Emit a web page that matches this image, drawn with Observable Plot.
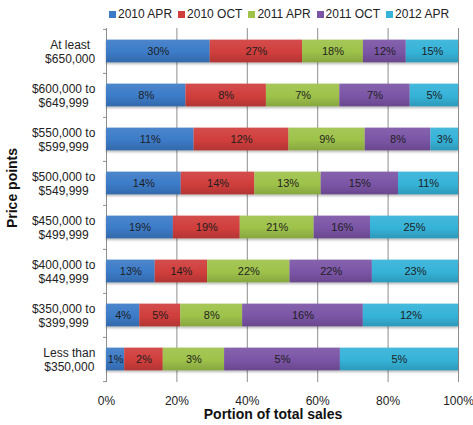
<!DOCTYPE html>
<html><head><meta charset="utf-8">
<script src="https://cdn.jsdelivr.net/npm/d3@7"></script>
<script src="https://cdn.jsdelivr.net/npm/@observablehq/plot@0.6"></script>
<style>
body{margin:0;background:#fff;font-family:"Liberation Sans",Arial,sans-serif;}
#chart{width:473px;height:425px;position:relative;background:#fff;}
#legend{height:22px;display:flex;align-items:center;padding-left:109px;padding-top:6px;box-sizing:border-box;font-size:12px;color:#222;white-space:nowrap;}
#legend .item{display:flex;align-items:center;margin-right:6px;}
#legend .sw{width:7px;height:7px;margin-right:2px;margin-top:1px;}
svg{display:block;}
</style></head>
<body><div id="chart"><div id="legend"></div></div>
<script>
const categories = [
  "At least\n$650,000",
  "$600,000 to\n$649,999",
  "$550,000 to\n$599,999",
  "$500,000 to\n$549,999",
  "$450,000 to\n$499,999",
  "$400,000 to\n$449,999",
  "$350,000 to\n$399,999",
  "Less than\n$350,000"
];
const series = ["2010 APR", "2010 OCT", "2011 APR", "2011 OCT", "2012 APR"];
const apr2010 = [30.0, 7.9, 10.8, 14.2, 19, 13, 4.3, 0.8];
const oct2010 = [26.7, 8.0, 11.7, 14.0, 19, 14, 5.3, 1.7];
const apr2011 = [17.6, 7.3, 9.4, 12.6, 21, 22, 8.0, 2.7];
const oct2011 = [12.4, 7.0, 8.1, 14.7, 16, 22, 15.6, 5.1];
const apr2012 = [15.1, 4.8, 3.4, 11.4, 25, 23, 12.3, 5.2];
const colors = ["#3C7BC8", "#D03E3C", "#9EC24A", "#7B55A6", "#35B3D8"];
const xTicks = [0, 0.2, 0.4, 0.6, 0.8, 1];

const seriesValues = [apr2010, oct2010, apr2011, oct2011, apr2012];
const data = categories.flatMap((c, i) =>
  series.map((s, j) => ({category: c, series: s, value: seriesValues[j][i]})));

const W = 473, H = 403, mt = 6, mb = 43, ml = 106, mr = 15;
const step = (H - mt - mb) / categories.length;
const barInset = (step - 23) / 2;
const font = '"Liberation Sans", Arial, sans-serif';

const chart = Plot.plot({
  width: W, height: H,
  marginTop: mt, marginBottom: mb, marginLeft: ml, marginRight: mr,
  style: {fontFamily: font, fontSize: "12px", color: "#222", background: "#fff", overflow: "visible"},
  x: {domain: [0, 1], axis: null},
  y: {domain: categories, padding: 0, axis: null},
  color: {domain: series, range: series.map((s, i) => `url(#grad${i})`)},
  marks: [
    Plot.gridX(xTicks, {stroke: "#8e8e8e", strokeOpacity: 1}),
    Plot.barX(data, Plot.stackX({x: "value", y: "category", fill: "series", offset: "normalize",
      insetTop: barInset, insetBottom: barInset})),
    Plot.text(data, Plot.stackX({x: "value", y: "category", z: "series", offset: "normalize",
      text: d => Math.round(d.value) + "%", fill: "#1e1e1e", fontSize: 11})),
    Plot.axisX(xTicks, {tickSize: 0, tickPadding: 13.5, tickFormat: d3.format(".0%"), label: null}),
    Plot.axisY({tickSize: 3, text: null, dy: -step / 2, stroke: "#8e8e8e", label: null}),
    Plot.axisY([categories[categories.length - 1]], {tickSize: 3, text: null, dy: step / 2, stroke: "#8e8e8e", label: null}),
    Plot.axisY({tickSize: 0, tickPadding: 11, lineHeight: 1.17, label: null}),
    Plot.text(["Portion of total sales"], {frameAnchor: "bottom", textAnchor: "middle", lineAnchor: "middle",
      dy: 32.5, dx: -9.5, fontWeight: "bold", fontSize: 14, fill: "#111"}),
    Plot.text(["Price points"], {frameAnchor: "left", textAnchor: "middle", lineAnchor: "middle",
      rotate: -90, dx: -94, dy: -17.5, fontWeight: "bold", fontSize: 14, fill: "#111"})
  ]
});

document.getElementById("chart").appendChild(chart);

// gradients & shadow
const ns = "http://www.w3.org/2000/svg";
const defs = document.createElementNS(ns, "defs");
colors.forEach((c, i) => {
  const lg = document.createElementNS(ns, "linearGradient");
  lg.setAttribute("id", `grad${i}`);
  lg.setAttribute("x1", "0"); lg.setAttribute("y1", "0");
  lg.setAttribute("x2", "0"); lg.setAttribute("y2", "1");
  const c0 = d3.color(c);
  [[0, d3.interpolateRgb(c, "#fff")(0.08)], [0.55, c], [1, c0.darker(0.45).formatHex()]].forEach(([o, col]) => {
    const st = document.createElementNS(ns, "stop");
    st.setAttribute("offset", o);
    st.setAttribute("stop-color", col);
    lg.appendChild(st);
  });
  defs.appendChild(lg);
});
const filt = document.createElementNS(ns, "filter");
filt.setAttribute("id", "barShadow");
filt.setAttribute("x", "-5%"); filt.setAttribute("y", "-20%");
filt.setAttribute("width", "110%"); filt.setAttribute("height", "160%");
const ds = document.createElementNS(ns, "feDropShadow");
ds.setAttribute("dx", "0"); ds.setAttribute("dy", "1.5");
ds.setAttribute("stdDeviation", "1"); ds.setAttribute("flood-opacity", "0.3");
filt.appendChild(ds);
defs.appendChild(filt);
chart.insertBefore(defs, chart.firstChild);
const barG = chart.querySelector('[aria-label="bar"]');
if (barG) barG.setAttribute("filter", "url(#barShadow)");

// center the lines of each y tick label within its right-aligned block
chart.querySelectorAll('[aria-label="y-axis tick label"] text').forEach(t => {
  const w = t.getBBox().width;
  t.setAttribute("text-anchor", "middle");
  const tr = t.getAttribute("transform") || "";
  t.setAttribute("transform", tr + ` translate(${-w / 2},0)`);
});

// legend
const legend = document.getElementById("legend");
series.forEach((s, i) => {
  const item = document.createElement("div");
  item.className = "item";
  const sw = document.createElement("div");
  sw.className = "sw";
  sw.style.background = colors[i];
  const tx = document.createElement("span");
  tx.textContent = s;
  item.appendChild(sw); item.appendChild(tx);
  legend.appendChild(item);
});
</script>
</body></html>
